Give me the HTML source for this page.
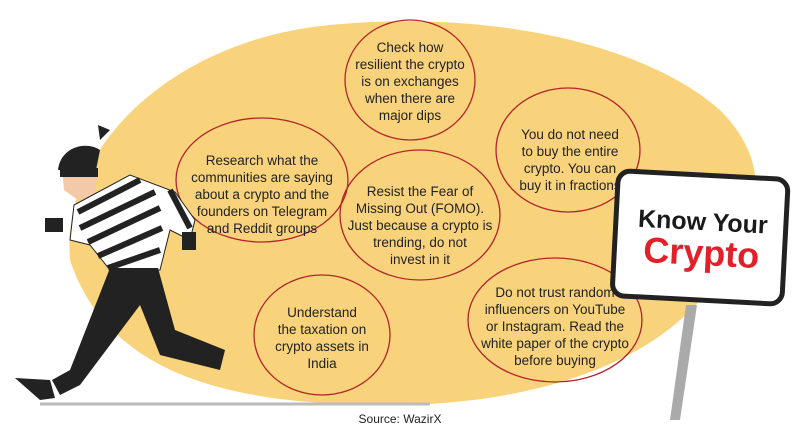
<!DOCTYPE html>
<html><head><style>
body{margin:0;background:#fff}
svg{display:block}
text{font-family:"Liberation Sans",sans-serif;font-size:13.5px;fill:#222;text-anchor:middle}
</style></head><body>
<svg width="801" height="439" viewBox="0 0 801 439">
<path d="M70,260 C60,150 170,40 330,25 C480,10 640,40 720,110 C780,170 760,240 700,300 C640,370 520,405 390,405 C240,405 110,380 70,260 Z" fill="#f8d37c"/>
<line x1="40" y1="404" x2="430" y2="404" stroke="#bbb" stroke-width="3"/>
<g fill="none" stroke="#b3242a" stroke-width="1.3">
<ellipse cx="410" cy="80" rx="65" ry="60"/>
<ellipse cx="262" cy="180" rx="86" ry="62"/>
<ellipse cx="568" cy="150" rx="72" ry="62"/>
<ellipse cx="420" cy="215" rx="80" ry="65"/>
<ellipse cx="322" cy="335" rx="68" ry="60"/>
<ellipse cx="555" cy="320" rx="87" ry="62"/>
</g>
<text x="410" y="52">Check how</text><text x="410" y="69">resilient the crypto</text><text x="410" y="86">is on exchanges</text><text x="410" y="103">when there are</text><text x="410" y="120">major dips</text>
<text x="262" y="165">Research what the</text><text x="262" y="182">communities are saying</text><text x="262" y="199">about a crypto and the</text><text x="262" y="216">founders on Telegram</text><text x="262" y="233">and Reddit groups</text>
<text x="570" y="139">You do not need</text><text x="570" y="156">to buy the entire</text><text x="570" y="173">crypto. You can</text><text x="570" y="190">buy it in fractions</text>
<text x="420" y="196">Resist the Fear of</text><text x="420" y="213">Missing Out (FOMO).</text><text x="420" y="230">Just because a crypto is</text><text x="420" y="247">trending, do not</text><text x="420" y="264">invest in it</text>
<text x="322" y="317">Understand</text><text x="322" y="334">the taxation on</text><text x="322" y="351">crypto assets in</text><text x="322" y="368">India</text>
<text x="555" y="297">Do not trust random</text><text x="555" y="314">influencers on YouTube</text><text x="555" y="331">or Instagram. Read the</text><text x="555" y="348">white paper of the crypto</text><text x="555" y="365">before buying</text>
<text x="400" y="423" style="font-size:12px">Source: WazirX</text>
<!-- sign -->
<polygon points="686,305 697,305 680,420 670,420" fill="#aaa"/>
<g transform="rotate(3 700 240)">
<rect x="615" y="175" width="170" height="125" rx="12" fill="#fff" stroke="#222" stroke-width="5"/>
<text x="702" y="230" style="font-size:25px;font-weight:bold;fill:#1a1a1a">Know Your</text>
<text x="702" y="265" style="font-size:36px;font-weight:bold;fill:#e3202a">Crypto</text>
</g>
<!-- thief -->
<g>
<path d="M100,140 L110,130 L98,125 Z" fill="#222"/>
<path d="M58,170 C60,148 85,140 100,150 L96,170 Z" fill="#222"/>
<path d="M62,168 L98,168 L95,195 L78,200 L64,190 Z" fill="#f3c9a8"/>
<rect x="60" y="168" width="38" height="9" fill="#222"/>
<path d="M74,205 L130,175 L175,192 L195,220 L190,240 L170,230 L160,270 L110,270 L90,245 L70,240 Z" fill="#fff" stroke="#222" stroke-width="1"/>
<g stroke="#222" stroke-width="6"><line x1="78" y1="212" x2="140" y2="180"/><line x1="80" y1="228" x2="155" y2="192"/><line x1="88" y1="242" x2="160" y2="208"/><line x1="98" y1="256" x2="162" y2="228"/><line x1="108" y1="268" x2="160" y2="250"/><line x1="170" y1="190" x2="190" y2="228"/></g>
<rect x="45" y="218" width="18" height="14" fill="#222"/>
<rect x="182" y="232" width="14" height="18" fill="#222"/>
<path d="M110,268 L158,268 L175,330 L225,350 L220,370 L160,355 L140,305 L80,385 L60,395 L52,380 L70,370 Z" fill="#222"/>
<path d="M15,378 L50,380 L55,398 L40,400 Z" fill="#222"/>
</g>
</svg>
</body></html>
